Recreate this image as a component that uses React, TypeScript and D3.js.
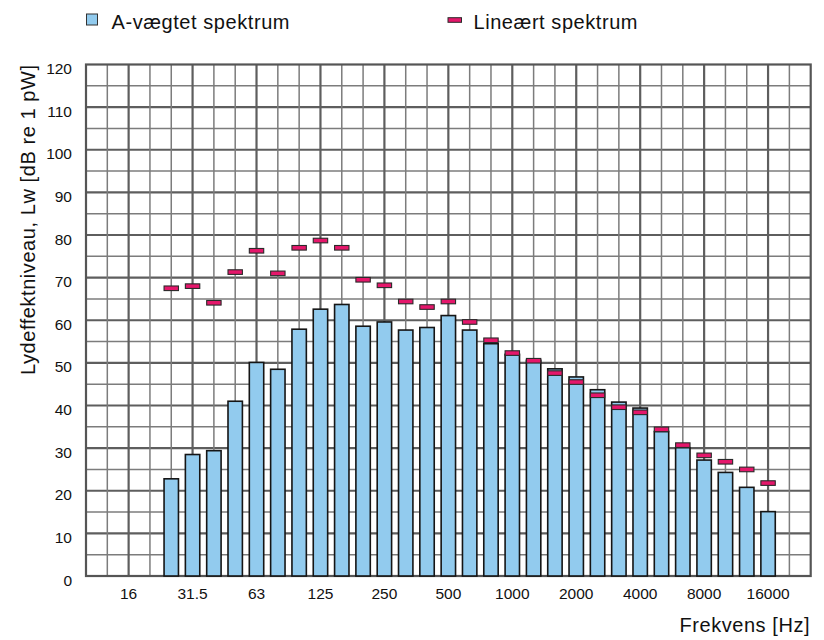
import React, { useEffect, useRef } from 'react';
import * as d3 from 'd3';

// third-octave centre frequencies along the x axis (grid lines sit on them)
const FREQS = [
  '10', '12.5', '16', '20', '25', '31.5', '40', '50', '63', '80', '100', '125', '160', '200',
  '250', '315', '400', '500', '630', '800', '1000', '1250', '1600', '2000', '2500', '3150',
  '4000', '5000', '6300', '8000', '10000', '12500', '16000', '20000', '25000',
];

const TICK_LABELS = ['16', '31.5', '63', '125', '250', '500', '1000', '2000', '4000', '8000', '16000'];

const BANDS = [
  '25', '31.5', '40', '50', '63', '80', '100', '125', '160', '200',
  '250', '315', '400', '500', '630', '800', '1000', '1250', '1600', '2000',
  '2500', '3150', '4000', '5000', '6300', '8000', '10000', '12500', '16000',
];

const A_WEIGHTED = [
  22.8, 28.5, 29.4, 41.0, 50.1, 48.5, 57.9, 62.6, 63.7, 58.6,
  59.6, 57.7, 58.3, 61.1, 57.7, 54.5, 52.0, 50.6, 48.6, 46.7,
  43.7, 40.8, 39.4, 33.9, 30.1, 27.2, 24.3, 20.8, 15.1,
];

const LINEAR = [
  67.5, 68.0, 64.1, 71.3, 76.3, 71.0, 77.0, 78.7, 77.0, 69.5,
  68.2, 64.4, 63.1, 64.4, 59.6, 55.3, 52.3, 50.5, 47.6, 45.5,
  42.4, 39.6, 38.4, 34.4, 30.7, 28.3, 26.8, 25.0, 21.8,
];

const Y_TICKS = [0, 10, 20, 30, 40, 50, 60, 70, 80, 90, 100, 110, 120];

const BAR_FILL = '#92cbee';
const MARK_FILL = '#e5176b';
const FONT = '"Liberation Sans", Arial, Helvetica, sans-serif';

const LwChart: React.FC = () => {
  const svgRef = useRef<SVGSVGElement>(null);

  useEffect(() => {
    if (!svgRef.current) return;

    const left = 86;
    const right = 810.7;
    const top = 64.5;
    const bottom = 576;

    const svg = d3.select(svgRef.current);
    svg.selectAll('*').remove();

    const x = d3.scalePoint<string>().domain(FREQS).range([left, right]);
    const y = d3.scaleLinear().domain([0, 120]).range([bottom, top]);

    const grid = svg.append('g');

    // horizontal grid every 5 dB, heavier every 10 dB
    grid.selectAll('.hgrid')
      .data(d3.range(5, 120, 5))
      .enter()
      .append('line')
      .attr('x1', left)
      .attr('x2', right)
      .attr('y1', (d) => y(d))
      .attr('y2', (d) => y(d))
      .attr('stroke', (d) => (d % 10 === 0 ? '#5e5e5e' : '#7c7c7c'))
      .attr('stroke-width', (d) => (d % 10 === 0 ? 2.2 : 1.5));

    // vertical grid on each band, heavier on labelled ones
    grid.selectAll('.vgrid')
      .data(FREQS.slice(1, -1))
      .enter()
      .append('line')
      .attr('x1', (d) => x(d)!)
      .attr('x2', (d) => x(d)!)
      .attr('y1', top)
      .attr('y2', bottom)
      .attr('stroke', (d) => (TICK_LABELS.includes(d) ? '#5e5e5e' : '#7c7c7c'))
      .attr('stroke-width', (d) => (TICK_LABELS.includes(d) ? 2.2 : 1.5));

    svg.append('rect')
      .attr('x', left)
      .attr('y', top)
      .attr('width', right - left)
      .attr('height', bottom - top)
      .attr('fill', 'none')
      .attr('stroke', '#555')
      .attr('stroke-width', 2.2);

    const barW = 14.4;

    svg.selectAll('.bar')
      .data(BANDS.map((f, i) => ({ f, v: A_WEIGHTED[i] })))
      .enter()
      .append('rect')
      .attr('x', (d) => x(d.f)! - barW / 2)
      .attr('y', (d) => y(d.v))
      .attr('width', barW)
      .attr('height', (d) => y(0) - y(d.v))
      .attr('fill', BAR_FILL)
      .attr('stroke', '#151515')
      .attr('stroke-width', 1.6);

    const markH = 4.6;

    svg.selectAll('.mark')
      .data(BANDS.map((f, i) => ({ f, v: LINEAR[i] })))
      .enter()
      .append('rect')
      .attr('x', (d) => x(d.f)! - barW / 2)
      .attr('y', (d) => y(d.v) - markH / 2)
      .attr('width', barW)
      .attr('height', markH)
      .attr('fill', MARK_FILL)
      .attr('stroke', '#2a2a2a')
      .attr('stroke-width', 1.1);

    // y tick labels (sit slightly below their lines, like the original)
    svg.selectAll('.ytick')
      .data(Y_TICKS)
      .enter()
      .append('text')
      .attr('x', 72)
      .attr('y', (d) => y(d) + 9.5)
      .attr('text-anchor', 'end')
      .attr('font-family', FONT)
      .attr('font-size', '15.5px')
      .attr('fill', '#111')
      .text((d) => d);

    svg.selectAll('.xtick')
      .data(TICK_LABELS)
      .enter()
      .append('text')
      .attr('x', (d) => x(d)!)
      .attr('y', 599)
      .attr('text-anchor', 'middle')
      .attr('font-family', FONT)
      .attr('font-size', '15.5px')
      .attr('fill', '#111')
      .text((d) => d);

    svg.append('text')
      .attr('transform', 'translate(34.5, 220) rotate(-90)')
      .attr('text-anchor', 'middle')
      .attr('font-family', FONT)
      .attr('font-size', '20px')
      .attr('fill', '#111')
      .attr('textLength', 310)
      .text('Lydeffektniveau, Lw [dB re 1 pW]');

    svg.append('text')
      .attr('x', 809.5)
      .attr('y', 632)
      .attr('text-anchor', 'end')
      .attr('font-family', FONT)
      .attr('font-size', '20px')
      .attr('fill', '#111')
      .attr('textLength', 130)
      .text('Frekvens [Hz]');

    // legend
    const legend = svg.append('g');
    legend.append('rect')
      .attr('x', 86.5)
      .attr('y', 14)
      .attr('width', 11)
      .attr('height', 11)
      .attr('fill', BAR_FILL)
      .attr('stroke', '#333')
      .attr('stroke-width', 1);
    legend.append('text')
      .attr('x', 111.5)
      .attr('y', 28.5)
      .attr('font-family', FONT)
      .attr('font-size', '20px')
      .attr('fill', '#111')
      .attr('textLength', 178)
      .text('A-vægtet spektrum');

    legend.append('rect')
      .attr('x', 448)
      .attr('y', 17.7)
      .attr('width', 13.5)
      .attr('height', 4.6)
      .attr('fill', MARK_FILL)
      .attr('stroke', '#2a2a2a')
      .attr('stroke-width', 1);
    legend.append('text')
      .attr('x', 473.5)
      .attr('y', 28.5)
      .attr('font-family', FONT)
      .attr('font-size', '20px')
      .attr('fill', '#111')
      .attr('textLength', 164)
      .text('Lineært spektrum');
  }, []);

  return (
    <div style={{ position: 'absolute', left: 0, top: 0 }}>
      <svg ref={svgRef} width="824" height="640" viewBox="0 0 824 640" style={{ display: 'block', background: '#fff' }} />
    </div>
  );
};

export default function App() {
  return <LwChart />;
}
